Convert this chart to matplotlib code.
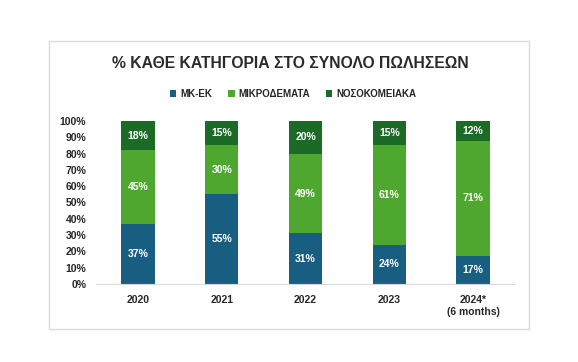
import matplotlib.pyplot as plt
import numpy as np

# Δεδομένα
years = ["2020", "2021", "2022", "2023", "2024*\n(6 months)"]
series_names = ["ΜΚ-ΕΚ", "ΜΙΚΡΟΔΕΜΑΤΑ", "ΝΟΣΟΚΟΜΕΙΑΚΑ"]
mk_ek = [37, 55, 31, 24, 17]
mikrodemata = [45, 30, 49, 61, 71]
nosokomeiaka = [18, 15, 20, 15, 12]
colors = ["#175e81", "#4ea72e", "#1b6b26"]

plt.rcParams['font.family'] = ['Liberation Sans', 'DejaVu Sans']

fig = plt.figure(figsize=(5.78, 3.62), dpi=100)
# πλαίσιο γραφήματος
fig.patches.append(plt.Rectangle((49 / 578, 1 - 329 / 362), 480 / 578, 288 / 362,
                                 transform=fig.transFigure, fill=False,
                                 edgecolor="#d9d9d9", linewidth=1))
ax = fig.add_axes([96 / 578, 1 - 284 / 362, 419 / 578, 163 / 362])

x = np.arange(len(years))
bottom = np.zeros(len(years))
for name, vals, c in zip(series_names, [mk_ek, mikrodemata, nosokomeiaka], colors):
    bars = ax.bar(x, vals, width=0.4, bottom=bottom, color=c, label=name)
    for b, v, y0 in zip(bars, vals, bottom):
        ax.text(b.get_x() + b.get_width() / 2, y0 + v / 2, f"{v}%",
                ha="center", va="center", color="white", fontsize=7.5, fontweight="bold")
    bottom += np.array(vals)

ax.set_xlim(-0.5, len(years) - 0.5)
ax.set_ylim(0, 100)
ax.set_yticks(range(0, 101, 10))
ax.set_yticklabels([f"{t}%" for t in range(0, 101, 10)])
ax.set_xticks(x)
ax.set_xticklabels(years)
for s in ["top", "right", "left"]:
    ax.spines[s].set_visible(False)
ax.spines["bottom"].set_color("#d9d9d9")
ax.tick_params(axis="both", length=0, labelsize=7.5, labelcolor="#262626")
ax.tick_params(axis="y", pad=7)
ax.tick_params(axis="x", pad=8)
for lab in ax.get_xticklabels() + ax.get_yticklabels():
    lab.set_fontweight("bold")

fig.text(290 / 578, 1 - 63 / 362, "% ΚΑΘΕ ΚΑΤΗΓΟΡΙΑ ΣΤΟ ΣΥΝΟΛΟ ΠΩΛΗΣΕΩΝ",
         ha="center", va="center", fontsize=11.3, fontweight="bold", color="#2b2b2b")

fig.legend(loc="center", bbox_to_anchor=(293 / 578, 1 - 94 / 362), ncol=3, frameon=False,
           prop={"weight": "bold", "size": 7}, labelcolor="#262626",
           handlelength=0.7, handleheight=0.7, columnspacing=1.6, handletextpad=0.4)

fig.savefig("out.png", dpi=100)
